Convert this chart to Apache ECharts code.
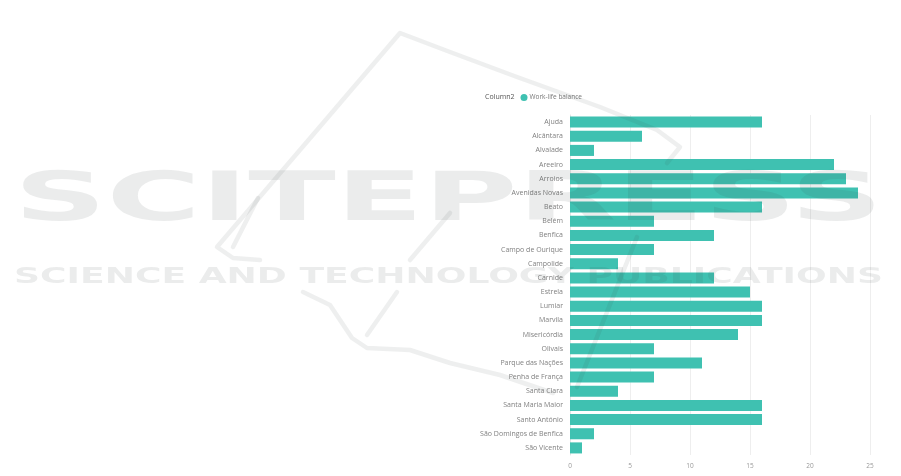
<!DOCTYPE html>
<html>
<head>
<meta charset="utf-8">
<script src="https://cdn.jsdelivr.net/npm/echarts@6/dist/echarts.min.js"></script>
<style>
html,body{margin:0;padding:0;background:#fff;}
#c{width:901px;height:476px;}
</style>
</head>
<body>
<div id="c"></div>
<script>
var categories = ['Ajuda','Alcântara','Alvalade','Areeiro','Arroios','Avenidas Novas','Beato','Belém','Benfica','Campo de Ourique','Campolide','Carnide','Estrela','Lumiar','Marvila','Misericórdia','Olivais','Parque das Nações','Penha de França','Santa Clara','Santa Maria Maior','Santo António','São Domingos de Benfica','São Vicente'];
var workLifeBalance = [16,6,2,22,23,24,16,7,12,7,4,12,15,16,16,14,7,11,7,4,16,16,2,1];
var xTicks = [0,5,10,15,20,25];
var seriesName = 'Work-life balance';
var legendTitle = 'Column2';

function measure(text, font){
  var cv = document.createElement('canvas').getContext('2d');
  cv.font = font; return cv.measureText(text).width;
}
var wm1Font = 'bold 68px "DejaVu Sans"';
var wm2Font = 'bold 21px "DejaVu Sans"';
var wm1 = 'SCITEPRESS', wm2 = 'SCIENCE AND TECHNOLOGY PUBLICATIONS';
var s1 = 869 / measure(wm1, wm1Font);
var s2 = 869 / measure(wm2, wm2Font);
var wmColor = 'rgba(60,70,70,0.10)';
var wmStroke = {stroke: 'rgba(60,70,70,0.085)', lineWidth: 4.5, fill: null, lineCap: 'round', lineJoin: 'round'};

var chart = echarts.init(document.getElementById('c'), null, {renderer: 'canvas'});
chart.setOption({
  backgroundColor: '#ffffff',
  animation: false,
  grid: {left: 570, right: 31, top: 115, bottom: 21, containLabel: false},
  legend: {
    left: 520.5, top: 94, padding: [0,0,0,0],
    data: [seriesName],
    icon: 'circle', itemWidth: 7, itemHeight: 7, itemGap: 4,
    textStyle: {fontSize: 6.5, color: '#777', fontFamily: 'Open Sans', padding: [0,0,0,-3]}
  },
  xAxis: {
    type: 'value', min: xTicks[0], max: xTicks[xTicks.length-1], interval: 5,
    axisLine: {show: false}, axisTick: {show: false},
    splitLine: {lineStyle: {color: '#eeeeee', width: 1}},
    axisLabel: {fontSize: 6.5, color: '#999', fontFamily: 'Open Sans', margin: 8}
  },
  yAxis: {
    type: 'category', data: categories, inverse: true,
    axisLine: {show: true, lineStyle: {color: '#e4e4e4'}},
    axisTick: {show: false},
    axisLabel: {fontSize: 7, color: '#808080', fontFamily: 'Open Sans', margin: 7}
  },
  series: [{
    name: seriesName, type: 'bar', data: workLifeBalance,
    barCategoryGap: '22%',
    itemStyle: {color: '#3fc1b1'}
  }],
  graphic: [
    {type: 'text', left: 485, top: 93, style: {text: legendTitle, fontSize: 7, fill: '#555', fontFamily: 'Open Sans'}},
    {type: 'text', x: 14, y: 202, scaleX: s1, z: 100, silent: true,
      style: {text: wm1, font: wm1Font, fill: wmColor, align: 'left', verticalAlign: 'middle'}},
    {type: 'text', x: 14, y: 277.5, scaleX: s2, z: 100, silent: true,
      style: {text: wm2, font: wm2Font, fill: wmColor, align: 'left', verticalAlign: 'middle'}},
    {type: 'polyline', z: 100, silent: true, shape: {points: [[260,260],[233,258],[217,247],[400,33],[450,52],[517,77],[600,107],[657,130],[680,147],[667,163]]}, style: wmStroke},
    {type: 'polyline', z: 100, silent: true, shape: {points: [[258,198],[233,247]]}, style: wmStroke},
    {type: 'polyline', z: 100, silent: true, shape: {points: [[450,213],[410,260]]}, style: wmStroke},
    {type: 'polyline', z: 100, silent: true, shape: {points: [[397,292],[367,335]]}, style: wmStroke},
    {type: 'polyline', z: 100, silent: true, shape: {points: [[303,292],[330,305],[352,338],[367,348],[410,350],[450,363],[500,375],[553,393]]}, style: wmStroke},
    {type: 'polyline', z: 100, silent: true, shape: {points: [[637,237],[577,387]]}, style: wmStroke}
  ]
});
</script>
</body>
</html>
